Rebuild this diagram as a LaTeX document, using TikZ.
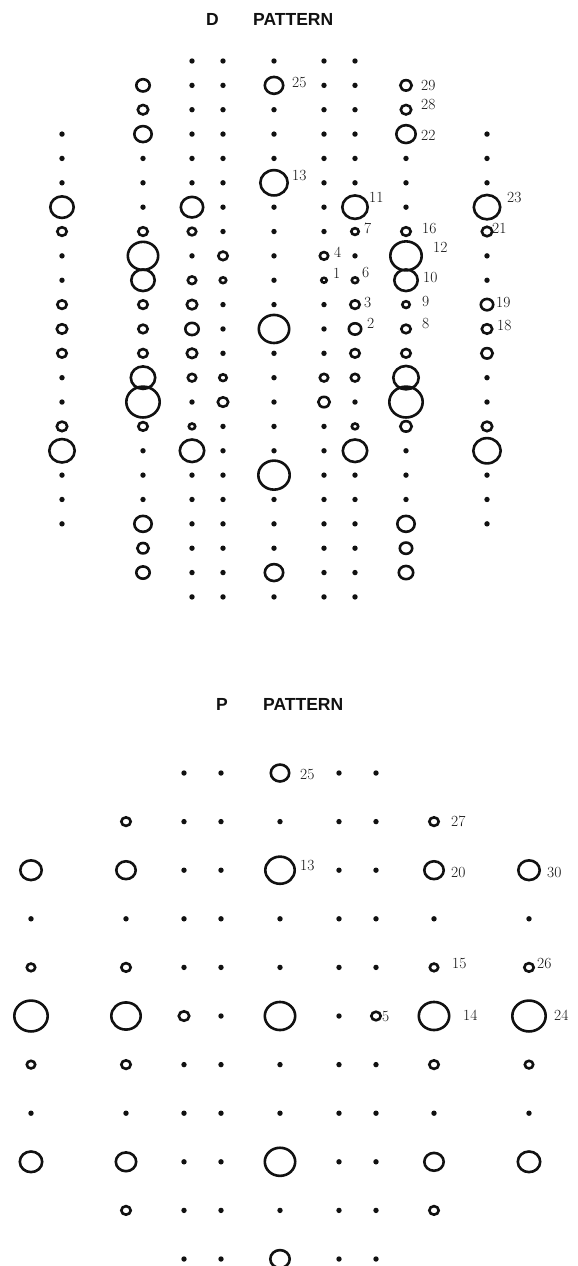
\documentclass[tikz,border=0pt]{standalone}
\usepackage{xcolor}
\usepackage{fontspec}
\usepackage{tikz}
\newfontfamily\headfont{Liberation Sans}
\definecolor{plotink}{HTML}{111111}

\tikzset{
  ring/.style={draw=plotink, line width=2.6pt},
  numlab/.style={anchor=west, inner sep=0pt, text=plotink, font=\fontsize{15.5}{16}\selectfont},
  headlab/.style={inner sep=0pt, text=plotink, font=\headfont\bfseries\fontsize{17.5}{18}\selectfont}
}

% x, y, radius (0 gives a dot)
\newcommand{\spot}[3]{%
  \ifdim #3pt=0pt
    \fill[plotink] ({#1},{#2}) circle (2.7);
  \else
    \draw[ring] ({#1},{#2}) ellipse ({#3-1.3} and {0.93*#3-1.3});
  \fi}

\begin{document}
\begin{tikzpicture}[x=1pt, y=1pt]
  \useasboundingbox (0,0) rectangle (578,-1266);

  % D pattern
  \node[headlab] (dhead) at (212.5,-19) {D};
  \node[headlab, anchor=west] (dword) at (253,-19) {PATTERN};
  \foreach \r/\s in {3/0,4/0,5/0,6/13,7/6,8/0,9/0,10/6,11/6.5,12/6,13/0,14/0,15/6.5,16/14,17/0,18/0,19/0}
    {\spot{62}{-61-24.36*\r}{\s}}
  \foreach \r/\s in {1/8,2/6.5,3/10,4/0,5/0,6/0,7/6,8/16.5,9/13,10/6,11/6,12/6,13/13.5,14/18,15/6,16/0,17/0,18/0,19/10,20/7,21/8}
    {\spot{143}{-61-24.36*\r}{\s}}
  \foreach \r/\s in {0/0,1/0,2/0,3/0,4/0,5/0,6/12.5,7/5.5,8/0,9/5.5,10/6.5,11/8,12/6.5,13/5.5,14/0,15/4.5,16/13.5,17/0,18/0,19/0,20/0,21/0,22/0}
    {\spot{192}{-61-24.36*\r}{\s}}
  \foreach \r/\s in {0/0,1/0,2/0,3/0,4/0,5/0,6/0,7/0,8/6,9/4.5,10/0,11/0,12/0,13/5,14/6.5,15/0,16/0,17/0,18/0,19/0,20/0,21/0,22/0}
    {\spot{223}{-61-24.36*\r}{\s}}
  \foreach \r/\s in {0/0,1/10.5,2/0,3/0,4/0,5/15,6/0,7/0,8/0,9/0,10/0,11/16.5,12/0,13/0,14/0,15/0,16/0,17/17,18/0,19/0,20/0,21/10.5,22/0}
    {\spot{274}{-61-24.36*\r}{\s}}
  \foreach \r/\s in {0/0,1/0,2/0,3/0,4/0,5/0,6/0,7/0,8/5.5,9/4,10/0,11/0,12/0,13/5.5,14/7,15/0,16/0,17/0,18/0,19/0,20/0,21/0,22/0}
    {\spot{324}{-61-24.36*\r}{\s}}
  \foreach \r/\s in {0/0,1/0,2/0,3/0,4/0,5/0,6/14,7/5,8/0,9/4.5,10/6,11/7.5,12/6,13/5.5,14/0,15/4.5,16/13.5,17/0,18/0,19/0,20/0,21/0,22/0}
    {\spot{355}{-61-24.36*\r}{\s}}
  \foreach \r/\s in {1/7,2/6.5,3/11,4/0,5/0,6/0,7/6,8/17,9/13,10/5,11/6,12/6,13/14,14/18,15/7,16/0,17/0,18/0,19/10,20/7.5,21/8.5}
    {\spot{406}{-61-24.36*\r}{\s}}
  \foreach \r/\s in {3/0,4/0,5/0,6/14.5,7/6.5,8/0,9/0,10/7.5,11/6.5,12/7,13/0,14/0,15/6.5,16/15,17/0,18/0,19/0}
    {\spot{487}{-61-24.36*\r}{\s}}

  \node[numlab] (d25) at (292,-82) {25};
  \node[numlab] (d13) at (292,-175) {13};
  \node[numlab] (d29) at (421,-85) {29};
  \node[numlab] (d28) at (421,-105) {28};
  \node[numlab] (d22) at (421,-135) {22};
  \node[numlab] (d11) at (369,-197) {11};
  \node[numlab] (d23) at (507,-197) {23};
  \node[numlab] (d7) at (364,-228) {7};
  \node[numlab] (d16) at (422,-228) {16};
  \node[numlab] (d21) at (492,-228) {21};
  \node[numlab] (d12) at (433,-247) {12};
  \node[numlab] (d4) at (334,-252) {4};
  \node[numlab] (d1) at (333,-273) {1};
  \node[numlab] (d6) at (362,-272) {6};
  \node[numlab] (d10) at (423,-277) {10};
  \node[numlab] (d3) at (364,-302) {3};
  \node[numlab] (d9) at (422,-301) {9};
  \node[numlab] (d19) at (496,-302) {19};
  \node[numlab] (d2) at (367,-323) {2};
  \node[numlab] (d8) at (422,-323) {8};
  \node[numlab] (d18) at (497,-325) {18};

  % P pattern
  \node[headlab] (phead) at (222,-704) {P};
  \node[headlab, anchor=west] (pword) at (263,-704) {PATTERN};
  \foreach \r/\s in {2/12,3/0,4/5.5,5/18,6/5.5,7/0,8/12.5}
    {\spot{31}{-773-48.6*\r}{\s}}
  \foreach \r/\s in {1/6,2/11,3/0,4/6,5/16,6/6,7/0,8/11.5,9/6}
    {\spot{126}{-773-48.6*\r}{\s}}
  \foreach \r/\s in {0/0,1/0,2/0,3/0,4/0,5/6.5,6/0,7/0,8/0,9/0,10/0}
    {\spot{184}{-773-48.6*\r}{\s}}
  \foreach \r in {0,...,10}
    {\spot{221}{-773-48.6*\r}{0}}
  \foreach \r/\s in {0/10.5,1/0,2/16,3/0,4/0,5/16.5,6/0,7/0,8/16.5,9/0,10/11}
    {\spot{280}{-773-48.6*\r}{\s}}
  \foreach \r in {0,...,10}
    {\spot{339}{-773-48.6*\r}{0}}
  \foreach \r/\s in {0/0,1/0,2/0,3/0,4/0,5/6,6/0,7/0,8/0,9/0,10/0}
    {\spot{376}{-773-48.6*\r}{\s}}
  \foreach \r/\s in {1/6,2/11,3/0,4/5.5,5/16.5,6/6,7/0,8/11,9/6}
    {\spot{434}{-773-48.6*\r}{\s}}
  \foreach \r/\s in {2/12,3/0,4/6,5/18,6/5.5,7/0,8/12.5}
    {\spot{529}{-773-48.6*\r}{\s}}

  \node[numlab] (p25) at (300,-774) {25};
  \node[numlab] (p27) at (451,-821) {27};
  \node[numlab] (p13) at (300,-865) {13};
  \node[numlab] (p20) at (451,-872) {20};
  \node[numlab] (p30) at (547,-872) {30};
  \node[numlab] (p15) at (452,-963) {15};
  \node[numlab] (p26) at (537,-963) {26};
  \node[numlab] (p5) at (382,-1016) {5};
  \node[numlab] (p14) at (463,-1015) {14};
  \node[numlab] (p24) at (554,-1015) {24};
\end{tikzpicture}
\end{document}
